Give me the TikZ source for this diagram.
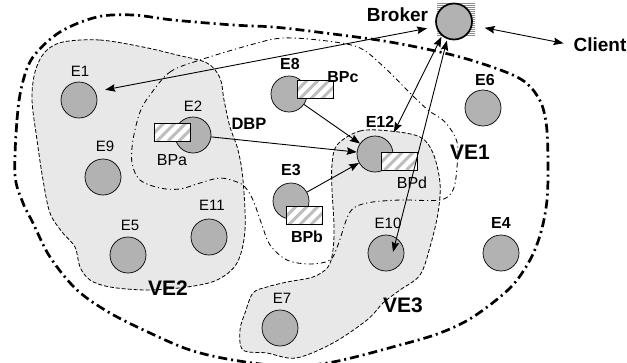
\documentclass[tikz,border=0pt]{standalone}
\usepackage{fontspec}
\setmainfont{Liberation Sans}
\usetikzlibrary{arrows.meta,calc}
\definecolor{cgray}{RGB}{178,178,178}
\definecolor{rgray}{RGB}{232,232,232}
\definecolor{sgray}{RGB}{190,190,190}
\definecolor{hgray}{RGB}{140,140,140}
\tikzset{
  ent/.style={circle, draw, fill=cgray, minimum size=36pt, inner sep=0pt, line width=0.7pt},
  bpbox/.style={draw, fill=white, minimum width=36pt, minimum height=18pt, inner sep=0pt, line width=0.7pt,
    path picture={\foreach \k in {-30,-19,...,40}
      \draw[sgray, line width=3pt] ([xshift=\k pt]path picture bounding box.south west) -- ++(22pt,22pt);}},
  hatchbox/.style={minimum width=38pt, minimum height=34pt, inner sep=0pt,
    path picture={\foreach \k in {0.5,2.5,...,34}
      \draw[hgray, line width=0.9pt] ([yshift=\k pt]path picture bounding box.south west) -- ++(40pt,0pt);}},
  elab/.style={inner sep=1pt, font=\fontsize{15}{15}\selectfont},
  blab/.style={inner sep=1pt, font=\fontsize{16}{16}\selectfont\bfseries},
  bplab/.style={inner sep=1pt, font=\fontsize{16}{16}\selectfont},
  biglab/.style={inner sep=1pt, font=\fontsize{16.5}{16.5}\selectfont\bfseries},
  toplab/.style={inner sep=1pt, font=\fontsize{19}{19}\selectfont\bfseries},
  velab/.style={inner sep=0pt, font=\fontsize{21}{21}\selectfont\bfseries},
  arrtip/.tip={Stealth[length=10pt,width=7.5pt,inset=1.5pt]},
  arr/.style={line width=0.9pt, -arrtip},
  darr/.style={line width=0.9pt, arrtip-arrtip},
  outerline/.style={line width=2.7pt, dash pattern=on 9pt off 4pt on 2pt off 4pt},
  dbpline/.style={line width=0.85pt, dash pattern=on 5pt off 3pt on 1.2pt off 3pt},
  veline/.style={line width=0.8pt, dash pattern=on 4pt off 2pt, fill=rgray},
}
\begin{document}
\begin{tikzpicture}[x=1pt,y=-1pt]
\useasboundingbox (0,0) rectangle (627,362);
% outer boundary
\draw[outerline] plot[smooth cycle, tension=0.55] coordinates {(15,175) (17,120) (22,85) (33,57) (60,32) (97,17) (133,15) (173,20) (233,25) (273,27) (317,32) (390,42) (460,57) (517,77) (538,97) (546,122) (548,160) (547,200) (541,232) (530,260) (510,288) (473,317) (440,333) (400,345) (333,362) (285,366) (233,360) (190,350) (150,333) (110,313) (77,290) (50,257) (33,223) (23,203)};
% VE2 region
\draw[veline] plot[smooth cycle, tension=0.55] coordinates {(63,42) (100,40) (143,47) (177,55) (207,63) (220,78) (224,100) (230,127) (238,150) (243,180) (245,230) (237,263) (217,280) (187,287) (147,290) (110,287) (90,280) (80,267) (75,247) (62,232) (50,213) (43,180) (37,140) (32,100) (35,72) (45,52)};
% VE3 region
\draw[veline] plot[smooth cycle, tension=0.55] coordinates {(337,145) (360,131) (390,131) (420,137) (433,153) (440,183) (438,213) (430,247) (420,275) (400,290) (383,303) (367,320) (333,343) (296,358) (267,353) (243,350) (240,330) (245,313) (253,293) (267,287) (287,282) (313,277) (328,267) (333,250) (334,225) (332,190) (332,165)};
% DBP region
\draw[dbpline] plot[smooth cycle, tension=0.55] coordinates {(150,95) (170,72) (200,60) (250,45) (283,38) (327,41) (360,48) (385,68) (410,93) (428,110) (445,122) (457,142) (457,167) (453,190) (440,200) (400,200) (367,203) (350,212) (338,245) (330,260) (310,264) (287,260) (270,245) (262,225) (253,200) (245,187) (237,182) (220,178) (200,183) (180,189) (160,188) (140,180) (132,163) (133,140) (140,112)};
% broker background hatch
\node[hatchbox] (brokbg) at (456,18.5) {};
% entities
\node[ent] (E1) at (79,100) {};
\node[ent] (E2) at (193,135) {};
\node[ent] (E9) at (103,177) {};
\node[ent] (E8) at (289,94) {};
\node[ent] (E3) at (291,201) {};
\node[ent] (E12) at (375,154) {};
\node[ent] (E10) at (386,253) {};
\node[ent] (E4) at (501,253) {};
\node[ent] (E6) at (483,108) {};
\node[ent] (E5) at (128,255) {};
\node[ent] (E11) at (209,237) {};
\node[ent] (E7) at (280,328) {};
\node[ent, minimum size=36pt, line width=1.7pt] (Broker) at (454,21.5) {};
% BP boxes
\node[bpbox] (BPa) at (172,132) {};
\node[bpbox] (BPc) at (315,89.5) {};
\node[bpbox] (BPb) at (304,215.5) {};
\node[bpbox] (BPd) at (399.5,161) {};
% labels
\node[elab] (lE1) at (80,71) {E1};
\node[elab] (lE2) at (193,106) {E2};
\node[elab] (lE9) at (105,146) {E9};
\node[blab] (lE8) at (290,64) {E8};
\node[blab] (lE3) at (291,170) {E3};
\node[blab] (lE12) at (380,122) {E12};
\node[elab] (lE10) at (388,223) {E10};
\node[blab] (lE4) at (501,223) {E4};
\node[blab] (lE6) at (485,80) {E6};
\node[elab] (lE5) at (130,225) {E5};
\node[elab] (lE11) at (212,205) {E11};
\node[elab] (lE7) at (282,298) {E7};
\node[bplab] (lBPa) at (172,160) {BPa};
\node[blab] (lBPc) at (343,77) {BPc};
\node[blab] (lBPb) at (307,237) {BPb};
\node[bplab] (lBPd) at (412,183) {BPd};
\node[biglab] (lDBP) at (249,124) {DBP};
\node[toplab] (lBroker) at (397.5,15) {Broker};
\node[toplab] (Client) at (600,45) {Client};
\node[velab] (lVE1) at (470,152) {VE1};
\node[velab] (lVE2) at (168,288) {VE2};
\node[velab] (lVE3) at (403,305) {VE3};
% arrows
\draw[darr, shorten <=10pt, shorten >=9pt] (E1.27.5) -- (Broker.196);
\draw[darr, shorten <=11pt, shorten >=1pt] (E12.40.8) -- (Broker.230.4);
\draw[darr, shorten >=1.5pt] ($(E10)+(7,-1)$) -- (Broker.249);
\draw[darr, shorten <=12.5pt, shorten >=9pt] (Broker.-12) -- (Client.west);
\draw[arr] (E8) -- (E12);
\draw[arr] (E2) -- (E12);
\draw[arr] (E3) -- (E12);
\end{tikzpicture}
\end{document}
